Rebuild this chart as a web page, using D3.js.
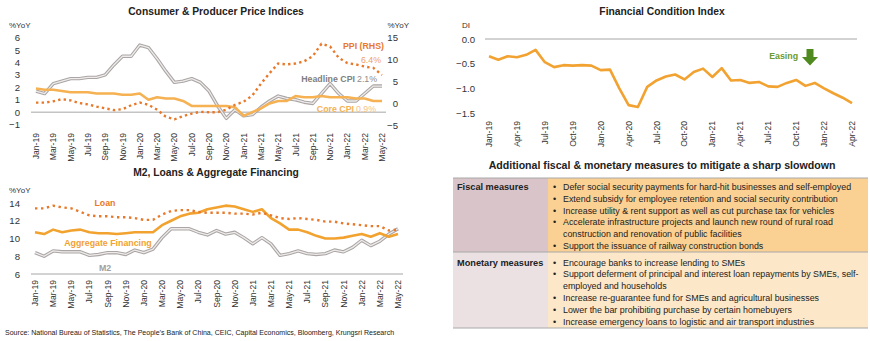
<!DOCTYPE html>
<html>
<head>
<meta charset="utf-8">
<script src="https://cdn.jsdelivr.net/npm/d3@7"></script>
<style>
  body { margin: 0; background: #fff; }
  svg { display: block; font-family: "Liberation Sans", Arial, sans-serif; }
</style>
</head>
<body>
<svg id="chart" width="870" height="341"></svg>
<script>
// monthly categories
const months = d3.timeMonth.range(new Date(2019, 0, 1), new Date(2022, 5, 1)); // Jan-19 .. May-22
const fciMonths = months.slice(0, 40); // Jan-19 .. Apr-22
const fmt = d3.timeFormat("%b-%y");

// Consumer & producer prices, %YoY
const headlineCpi = [1.7, 1.5, 2.3, 2.5, 2.7, 2.7, 2.8, 2.8, 3.0, 3.8, 4.5, 4.5,
  5.4, 5.2, 4.3, 3.3, 2.4, 2.5, 2.7, 2.4, 1.7, 0.5, -0.5, 0.2,
  -0.3, -0.2, 0.4, 0.9, 1.3, 1.1, 1.0, 0.8, 0.7, 1.5, 2.3, 1.5,
  0.9, 0.9, 1.5, 2.1, 2.1];
const coreCpi = [1.9, 1.8, 1.8, 1.7, 1.6, 1.6, 1.6, 1.5, 1.5, 1.5, 1.4, 1.4,
  1.5, 1.0, 1.2, 1.1, 1.1, 0.9, 0.5, 0.5, 0.5, 0.5, 0.5, 0.4,
  -0.3, 0.0, 0.3, 0.7, 0.9, 0.9, 1.3, 1.2, 1.2, 1.3, 1.2, 1.2,
  1.2, 1.1, 1.1, 0.9, 0.9];
const ppi = [0.1, 0.1, 0.4, 0.9, 0.6, 0.0, -0.3, -0.8, -1.2, -1.6, -1.4, -0.5,
  0.1, -0.4, -1.5, -3.1, -3.7, -3.0, -2.4, -2.0, -2.1, -2.1, -1.5, -0.4,
  0.3, 1.7, 4.4, 6.8, 9.0, 8.8, 9.0, 9.5, 10.7, 13.5, 12.9, 10.3,
  9.1, 8.8, 8.3, 8.0, 6.4];

// Money & credit, %YoY
const loan = [13.4, 13.4, 13.7, 13.5, 13.4, 13.0, 12.6, 12.5, 12.5, 12.4, 12.4, 12.3,
  12.1, 12.1, 12.7, 13.1, 13.2, 13.2, 13.0, 12.9, 12.9, 12.9, 12.8, 12.8,
  12.7, 12.9, 12.6, 12.3, 12.2, 12.3, 12.2, 12.1, 11.9, 11.9, 11.7, 11.6,
  11.5, 11.4, 11.4, 10.9, 11.0];
const aggFinancing = [10.7, 10.5, 11.0, 10.7, 10.9, 11.0, 10.7, 10.6, 10.6, 10.5, 10.6, 10.7,
  10.7, 10.7, 11.5, 12.0, 12.5, 12.8, 12.9, 13.3, 13.5, 13.7, 13.6, 13.3,
  13.0, 13.3, 12.3, 11.7, 11.0, 11.0, 10.7, 10.3, 10.0, 10.0, 10.1, 10.3,
  10.5, 10.2, 10.6, 10.2, 10.5];
const m2 = [8.4, 8.0, 8.6, 8.5, 8.5, 8.5, 8.1, 8.2, 8.4, 8.4, 8.2, 8.7,
  8.4, 8.8, 10.1, 11.1, 11.1, 11.1, 10.7, 10.4, 10.9, 10.5, 10.7, 10.1,
  9.4, 10.1, 9.4, 8.1, 8.3, 8.6, 8.3, 8.2, 8.3, 8.7, 8.5, 9.0,
  9.8, 9.2, 9.7, 10.5, 11.1];

// Financial condition index (DI)
const fci = [-0.35, -0.42, -0.35, -0.37, -0.32, -0.22, -0.47, -0.57, -0.53, -0.54, -0.53, -0.54,
  -0.63, -0.62, -1.0, -1.34, -1.38, -0.97, -0.84, -0.76, -0.72, -0.82, -0.67, -0.60,
  -0.77, -0.59, -0.84, -0.83, -0.89, -0.87, -0.96, -0.97, -0.89, -0.83, -0.95, -0.89,
  -1.0, -1.1, -1.19, -1.3];

// tick values
const cpiTicks = [-1, 0, 1, 2, 3, 4, 5, 6];
const ppiTicks = [-5, 0, 5, 10, 15];
const moneyTicks = [6, 8, 10, 12, 14];
const fciTicks = [0, -0.5, -1.0, -1.5];

// policy table
const fiscalMeasures = [
  ["Defer social security payments for hard-hit businesses and self-employed"],
  ["Extend subsidy for employee retention and social security contribution"],
  ["Increase utility & rent support as well as cut purchase tax for vehicles"],
  ["Accelerate infrastructure projects and launch new round of rural road", "construction and renovation of public facilities"],
  ["Support the issuance of railway construction bonds"]
];
const monetaryMeasures = [
  ["Encourage banks to increase lending to SMEs"],
  ["Support deferment of principal and interest loan repayments by SMEs, self-", "employed and households"],
  ["Increase re-guarantee fund for SMEs and agricultural businesses"],
  ["Lower the bar prohibiting purchase by certain homebuyers"],
  ["Increase emergency loans to logistic and air transport industries"]
];

const C = {
  ppi: "#E8792B",
  core: "#F5B152",
  agg: "#F2A22E",
  fci: "#F2A231",
  greyOut: "#ABA5A5",
  greyIn: "#EEEBEB",
  axis: "#A6A6A6",
  text: "#222",
  tick: "#333"
};

const svg = d3.select("#chart");
svg.append("rect").attr("width", 870).attr("height", 341).attr("fill", "#fff");

const title = (x, y, t, size) => svg.append("text")
  .attr("x", x).attr("y", y).attr("text-anchor", "middle")
  .attr("font-size", size || 10.3).attr("font-weight", "bold").attr("fill", C.text).text(t);

const unitLabel = (x, y, t, anchor) => svg.append("text")
  .attr("x", x).attr("y", y).attr("text-anchor", anchor || "start")
  .attr("font-size", 8).attr("fill", C.tick).text(t);

const yAxis = (g, axis) => {
  g.call(axis.tickSize(0).tickPadding(0));
  g.select(".domain").remove();
  g.selectAll("text").attr("font-size", 9.6).attr("fill", C.tick)
    .attr("font-family", "Liberation Sans, Arial, sans-serif");
};

const xLabels = (g, x, data, every, top) => {
  g.selectAll("text").data(data.filter((d, i) => i % every === 0)).join("text")
    .attr("transform", d => `translate(${x(d)},${top}) rotate(-90)`)
    .attr("dy", "0.35em").attr("text-anchor", "end")
    .attr("font-size", 8.6).attr("fill", C.tick).text(fmt);
};

const drawDouble = (g, data, line) => {
  g.append("path").datum(data).attr("fill", "none").attr("stroke", C.greyOut)
    .attr("stroke-width", 3.4).attr("stroke-linejoin", "round").attr("d", line);
  g.append("path").datum(data).attr("fill", "none").attr("stroke", C.greyIn)
    .attr("stroke-width", 1.3).attr("stroke-linejoin", "round").attr("d", line);
};

// ---------- Consumer & Producer Price Indices ----------
{
  const g = svg.append("g");
  const x = d3.scalePoint().domain(months).range([36, 382]);
  const yL = d3.scaleLinear().domain([-1, 6]).range([124.6, 37.6]);
  const yR = d3.scaleLinear().domain([-5, 15]).range([125, 37.2]);

  title(216, 15, "Consumer & Producer Price Indices");
  unitLabel(9, 28, "%YoY");
  unitLabel(409, 28, "%YoY", "end");

  g.append("g").attr("transform", "translate(20,0)")
    .call(gg => yAxis(gg, d3.axisLeft(yL).tickValues(cpiTicks).tickFormat(d3.format("d"))));
  g.append("g").attr("transform", "translate(398,0)")
    .call(gg => yAxis(gg, d3.axisLeft(yR).tickValues(ppiTicks).tickFormat(d3.format("d"))));

  g.append("line").attr("x1", 31).attr("x2", 386).attr("y1", yL(0)).attr("y2", yL(0))
    .attr("stroke", C.axis).attr("stroke-width", 1);

  xLabels(g.append("g"), x, months, 2, 133);

  const lineL = d3.line().x((d, i) => x(months[i])).y(d => yL(d));
  const lineR = d3.line().x((d, i) => x(months[i])).y(d => yR(d));

  drawDouble(g, headlineCpi, lineL);
  g.append("path").datum(coreCpi).attr("fill", "none").attr("stroke", C.core)
    .attr("stroke-width", 2.6).attr("stroke-linejoin", "round").attr("d", lineL);
  g.append("path").datum(ppi).attr("fill", "none").attr("stroke", C.ppi)
    .attr("stroke-width", 2.4).attr("stroke-dasharray", "2.4,3.2").attr("d", lineR);

  const lab = (xx, yy, t, col, bold, anchor) => g.append("text")
    .attr("x", xx).attr("y", yy).attr("text-anchor", anchor || "start")
    .attr("font-size", 8.8).attr("font-weight", bold ? "bold" : "normal")
    .attr("fill", col).text(t);
  lab(384, 49, "PPI (RHS)", C.ppi, true, "end");
  lab(381, 63, d3.format(".1f")(ppi[40]) + "%", "#F0A06A", false, "end");
  lab(355, 82, "Headline CPI", "#7F7F7F", true, "end");
  lab(357, 82, d3.format(".1f")(headlineCpi[40]) + "%", "#8C8C8C", false);
  lab(354, 112, "Core CPI", C.core, true, "end");
  lab(356, 112, d3.format(".1f")(coreCpi[40]) + "%", "#F6C487", false);
}

// ---------- M2, Loans & Aggregate Financing ----------
{
  const g = svg.append("g");
  const x = d3.scalePoint().domain(months).range([35, 398]);
  const y = d3.scaleLinear().domain([6, 14]).range([274, 203]);

  title(216, 176, "M2, Loans & Aggregate Financing");
  unitLabel(9, 193, "%YoY");

  g.append("g").attr("transform", "translate(20,0)")
    .call(gg => yAxis(gg, d3.axisLeft(y).tickValues(moneyTicks).tickFormat(d3.format("d"))));

  g.append("line").attr("x1", 31).attr("x2", 403).attr("y1", y(6)).attr("y2", y(6))
    .attr("stroke", C.axis).attr("stroke-width", 1);

  xLabels(g.append("g"), x, months, 2, 280);

  const line = d3.line().x((d, i) => x(months[i])).y(d => y(d));
  drawDouble(g, m2, line);
  g.append("path").datum(aggFinancing).attr("fill", "none").attr("stroke", C.agg)
    .attr("stroke-width", 2.6).attr("stroke-linejoin", "round").attr("d", line);
  g.append("path").datum(loan).attr("fill", "none").attr("stroke", C.ppi)
    .attr("stroke-width", 2.4).attr("stroke-dasharray", "2.4,3.6").attr("d", line);

  const lab = (xx, yy, t, col) => g.append("text")
    .attr("x", xx).attr("y", yy).attr("text-anchor", "middle")
    .attr("font-size", 8.8).attr("font-weight", "bold").attr("fill", col).text(t);
  lab(105, 206, "Loan", C.ppi);
  lab(108, 246, "Aggregate Financing", C.agg);
  lab(105, 271, "M2", "#A0A0A0");
}

// ---------- Financial Condition Index ----------
{
  const g = svg.append("g");
  const x = d3.scalePoint().domain(fciMonths).range([489, 852]);
  const y = d3.scaleLinear().domain([-1.5, 0]).range([113, 39]);

  title(662, 15, "Financial Condition Index");
  unitLabel(462, 28, "DI");

  g.append("g").attr("transform", "translate(475,0)")
    .call(gg => yAxis(gg, d3.axisLeft(y).tickValues(fciTicks).tickFormat(d3.format(".1f"))));

  g.append("line").attr("x1", 485).attr("x2", 857).attr("y1", y(0)).attr("y2", y(0))
    .attr("stroke", C.axis).attr("stroke-width", 1);

  xLabels(g.append("g"), x, fciMonths, 3, 121);

  g.append("path").datum(fci).attr("fill", "none").attr("stroke", C.fci)
    .attr("stroke-width", 2.6).attr("stroke-linejoin", "round")
    .attr("d", d3.line().x((d, i) => x(fciMonths[i])).y(d => y(d)));

  g.append("text").attr("x", 798).attr("y", 59).attr("text-anchor", "end")
    .attr("font-size", 8.8).attr("font-weight", "bold").attr("fill", "#6B9B31").text("Easing");
  // down arrow
  g.append("path")
    .attr("d", "M806.5,49 h7 v8 h4.5 l-8,8.5 l-8,-8.5 h4.5 z")
    .attr("fill", "#4F8A1E");
}

// ---------- measures table ----------
{
  const g = svg.append("g");
  const left = 453, mid = 548, right = 868;
  const top = 178, split = 252, bottom = 328;

  title(662, 169, "Additional fiscal & monetary measures to mitigate a sharp slowdown", 10.6);

  g.append("rect").attr("x", left).attr("y", top).attr("width", mid - left).attr("height", split - top).attr("fill", "#D9C5C9");
  g.append("rect").attr("x", mid).attr("y", top).attr("width", right - mid).attr("height", split - top).attr("fill", "#FAD193");
  g.append("rect").attr("x", left).attr("y", split).attr("width", mid - left).attr("height", bottom - split).attr("fill", "#EBE1E3");
  g.append("rect").attr("x", mid).attr("y", split).attr("width", right - mid).attr("height", bottom - split).attr("fill", "#FCE7C8");
  [top, split, bottom].forEach(yy => g.append("line")
    .attr("x1", left).attr("x2", right).attr("y1", yy).attr("y2", yy)
    .attr("stroke", "#A8A8A8").attr("stroke-width", 1));

  const block = (y0, head, items) => {
    g.append("text").attr("x", left + 4).attr("y", y0).attr("font-size", 9.2)
      .attr("font-weight", "bold").attr("fill", C.text).text(head);
    let yy = y0;
    items.forEach(lines => {
      g.append("text").attr("x", mid + 5).attr("y", yy).attr("font-size", 9)
        .attr("fill", C.text).text("•");
      lines.forEach(t => {
        g.append("text").attr("x", mid + 15).attr("y", yy).attr("font-size", 8.9)
          .attr("fill", C.text).text(t);
        yy += 11.8;
      });
    });
  };
  block(190, "Fiscal measures", fiscalMeasures);
  block(265.5, "Monetary measures", monetaryMeasures);
}

svg.append("text").attr("x", 5).attr("y", 335).attr("font-size", 7.05).attr("fill", C.text)
  .text("Source: National Bureau of Statistics, The People\u2019s Bank of China, CEIC, Capital Economics, Bloomberg, Krungsri Research");
</script>
</body>
</html>
